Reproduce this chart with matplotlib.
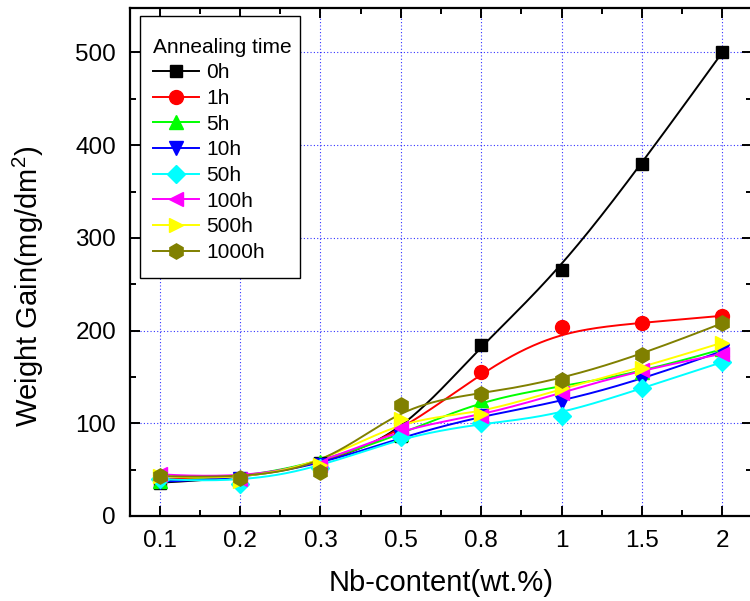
import numpy as np
import matplotlib
matplotlib.use("Agg")
import matplotlib.pyplot as plt
from matplotlib.patches import Rectangle

plt.rcParams['font.family'] = ['Liberation Sans', 'DejaVu Sans']
plt.rcParams['mathtext.default'] = 'regular'

nb_content = ["0.1", "0.2", "0.3", "0.5", "0.8", "1", "1.5", "2"]
labels = ["0h", "1h", "5h", "10h", "50h", "100h", "500h", "1000h"]

gain_0h = [36, 40, 57, 86, 185, 265, 380, 500]
gain_1h = [40, 40, 55, 90, 155, 204, 208, 216]
gain_5h = [38, 40, 58, 88, 125, 140, 155, 180]
gain_10h = [37, 40, 55, 85, 108, 123, 147, 178]
gain_50h = [40, 35, 52, 85, 100, 108, 138, 166]
gain_100h = [45, 40, 55, 95, 108, 133, 158, 175]
gain_500h = [43, 38, 55, 105, 110, 138, 160, 187]
gain_1000h = [43, 41, 48, 120, 132, 147, 174, 208]

series = [gain_0h, gain_1h, gain_5h, gain_10h, gain_50h, gain_100h, gain_500h, gain_1000h]
colors = ["#000000", "#ff0000", "#00ff00", "#0000ff", "#00ffff", "#ff00ff", "#ffff00", "#808000"]
markers = ["s", "o", "^", "v", "D", "<", ">", "h"]
msizes = [9, 10, 10, 10, 9, 10, 10, 11]


def bspline(xs, ys, n_out=300, k=3):
    """Clamped uniform cubic B-spline through control points (xs, ys)."""
    p = np.column_stack([xs, ys]).astype(float)
    n = len(p)
    inner = np.arange(1, n - k)
    knots = np.concatenate([np.zeros(k + 1), inner, np.full(k + 1, n - k)]).astype(float)
    t = np.linspace(0, n - k, n_out)
    t[-1] -= 1e-9

    def basis(i, d, tt):
        if d == 0:
            return ((knots[i] <= tt) & (tt < knots[i + 1])).astype(float)
        out = np.zeros_like(tt)
        den1 = knots[i + d] - knots[i]
        den2 = knots[i + d + 1] - knots[i + 1]
        if den1 > 0:
            out += (tt - knots[i]) / den1 * basis(i, d - 1, tt)
        if den2 > 0:
            out += (knots[i + d + 1] - tt) / den2 * basis(i + 1, d - 1, tt)
        return out

    B = np.column_stack([basis(i, k, t) for i in range(n)])
    c = B @ p
    return c[:, 0], c[:, 1]


fig = plt.figure(figsize=(7.5, 6.01), dpi=100)
ax = fig.add_axes([130 / 750, 85 / 601, 622 / 750, 508 / 601])

xpos = np.arange(len(nb_content))
for vals, c, m, ms, lab in zip(series, colors, markers, msizes, labels):
    sx, sy = bspline(xpos, vals)
    ax.plot(sx, sy, color=c, lw=1.4, zorder=3)
    ax.plot(xpos, vals, linestyle="none", marker=m, ms=ms, color=c,
            markeredgecolor=c, zorder=4)
    ax.plot([], [], color=c, lw=1.4, marker=m, ms=ms, label=lab)

ax.set_xlim(-0.37, 7.37)
ax.set_ylim(0, 548)
ax.set_xticks(xpos)
ax.set_xticklabels(nb_content)
ax.set_xticks(xpos[:-1] + 0.5, minor=True)
ax.set_yticks(np.arange(0, 501, 100))
ax.set_yticks(np.arange(50, 548, 100), minor=True)

ax.grid(True, which="major", color="#0000ff", linestyle=(0, (1, 2)), lw=0.8, alpha=0.8)
ax.set_axisbelow(True)

for s in ax.spines.values():
    s.set_linewidth(1.6)
ax.tick_params(which="both", direction="in", top=True, right=True, width=1.4)
ax.tick_params(which="major", length=7, labelsize=17.5, pad=10)
ax.tick_params(which="minor", length=4)

ax.set_xlabel("Nb-content(wt.%)", fontsize=21, labelpad=12)
ax.set_ylabel("Weight Gain(mg/dm$^2$)", fontsize=21)
ax.yaxis.set_label_coords(-0.135, 0.453)

# legend frame drawn as a separate box so its padding can differ per side
ax.add_patch(Rectangle((0.0161, 0.4685), 0.257, 0.5157, transform=ax.transAxes,
                       facecolor="white", edgecolor="black", lw=1.0, zorder=5))
leg = ax.legend(title="Annealing time", loc="upper left", bbox_to_anchor=(0.037, 0.9417),
                borderaxespad=0.0, fontsize=15, title_fontsize=15, frameon=False,
                handlelength=2.2, handletextpad=0.35, labelspacing=0.32, borderpad=0.0)
leg.set_zorder(6)
leg._legend_box.align = "left"

fig.savefig("out.png", dpi=100)
